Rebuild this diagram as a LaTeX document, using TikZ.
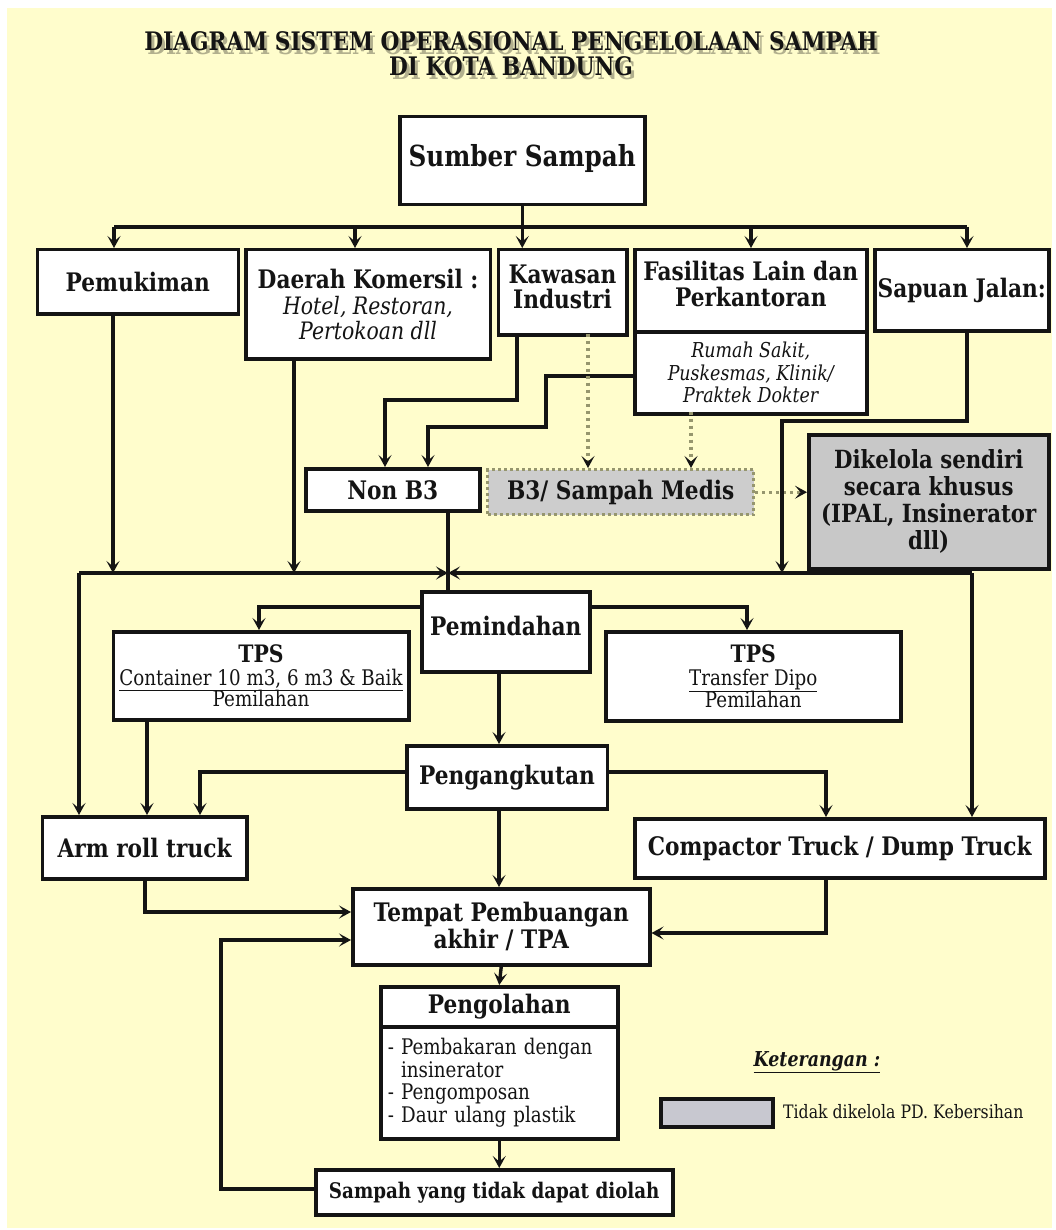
\documentclass[tikz,border=0pt]{standalone}
\usepackage{fontspec}
\setmainfont{DejaVu Serif}[FakeStretch=0.85]
\usetikzlibrary{arrows.meta}
\definecolor{bgy}{RGB}{255,253,204}
\definecolor{gfill}{RGB}{200,200,200}
\definecolor{gfillb}{RGB}{205,205,205}
\definecolor{gleg}{RGB}{200,200,208}
\definecolor{dotc}{RGB}{150,150,110}
\definecolor{ink}{RGB}{20,20,20}
\begin{document}
\begin{tikzpicture}[x=1pt,y=-1pt,
  box/.style={draw=ink, line width=3.5pt, fill=white, inner sep=0pt, align=center, text=ink, anchor=north west},
  bf/.style={font=\bfseries\fontsize{25.5}{26}\selectfont},
  ln/.style={draw=ink, line width=3.4pt},
  arr/.style={draw=ink, line width=3.4pt, -{Stealth[length=12pt,width=13pt,inset=5.5pt]}},
  dotarr/.style={draw=dotc, line width=3.4pt, dash pattern=on 3pt off 4pt, -{Stealth[length=12pt,width=13pt,inset=5.5pt,color=ink]}},
  ttl/.style={font=\bfseries\fontsize{25.5}{25}\selectfont, inner sep=0pt, align=center}]
\useasboundingbox (0,0) rectangle (1055,1230);
\fill[white] (0,0) rectangle (1055,1230);
\fill[bgy] (7,8) rectangle (1052,1228);

% title with shadow
\node[ttl, text=black, opacity=0.3] (sh) at (514,58) {DIAGRAM SISTEM OPERASIONAL PENGELOLAAN SAMPAH\\ DI KOTA BANDUNG};
\node[ttl, text=ink] (title) at (511,54) {DIAGRAM SISTEM OPERASIONAL PENGELOLAAN SAMPAH\\ DI KOTA BANDUNG};

% boxes
\node[box, font=\bfseries\fontsize{29}{30}\selectfont, minimum width=245pt, minimum height=88pt] (sum) at (398,115) {\raisebox{10pt}{Sumber Sampah}};
\node[box, bf, minimum width=201pt, minimum height=64pt] (pem) at (35.5,248) {Pemukiman};
\node[box, font=\fontsize{24}{25}\selectfont, minimum width=244.5pt, minimum height=109pt] (dae) at (244,248)
  {{\bfseries\fontsize{25.5}{26}\selectfont Daerah Komersil :}\\[1pt]
   {\itshape\fontsize{24}{25}\selectfont Hotel, Restoran,}\\
   {\itshape\fontsize{24}{25}\selectfont Pertokoan dll}};
\node[box, font=\bfseries\fontsize{25.5}{25}\selectfont, text depth=12pt, minimum width=128.5pt, minimum height=85pt] (kaw) at (496.5,248) {Kawasan\\Industri};
\node[box, font=\bfseries\fontsize{25.5}{26}\selectfont, text depth=14pt, minimum width=232pt, minimum height=82pt] (fas1) at (633,248) {Fasilitas Lain dan\\Perkantoran};
\node[box, font=\itshape\fontsize{20.5}{22.5}\selectfont, minimum width=232pt, minimum height=82pt] (fas2) at (633,330) {Rumah Sakit,\\ Puskesmas, Klinik/\\ Praktek Dokter};
\node[box, bf, minimum width=174pt, minimum height=81pt] (sap) at (873,248) {\raisebox{2pt}{Sapuan Jalan:}};
\node[box, bf, minimum width=174pt, minimum height=42pt] (non) at (304,467) {Non B3};
\node[box, bf, fill=gfillb, draw=dotc, line width=3.4pt, dash pattern=on 3pt off 3pt, minimum width=266pt, minimum height=45pt] (b3) at (486,468) {B3/ Sampah Medis};
\node[box, fill=gfill, font=\bfseries\fontsize{25}{27}\selectfont, minimum width=240pt, minimum height=134pt] (dik) at (807,433) {Dikelola sendiri\\ secara khusus\\ (IPAL, Insinerator\\ dll)};
\node[box, bf, minimum width=168pt, minimum height=80pt] (pmd) at (420,590) {\raisebox{12pt}{Pemindahan}};
\node[box, font=\fontsize{21.5}{22}\selectfont, minimum width=295.4pt, minimum height=88pt] (tpsl) at (111.6,630)
  {{\bfseries\fontsize{24}{24}\selectfont TPS}\\[1pt] {\fontsize{21.5}{22}\selectfont\underline{Container 10 m3, 6 m3 \& Baik}}\\[-1pt] {\fontsize{21.5}{22}\selectfont Pemilahan}};
\node[box, font=\fontsize{21.5}{22}\selectfont, minimum width=295pt, minimum height=89pt] (tpsr) at (604,630)
  {{\bfseries\fontsize{24}{24}\selectfont TPS}\\[1pt] {\fontsize{21.5}{22}\selectfont\underline{Transfer Dipo}}\\[-1pt] {\fontsize{21.5}{22}\selectfont Pemilahan}};
\node[box, bf, minimum width=200.5pt, minimum height=63pt] (pgk) at (405,744) {\raisebox{3pt}{Pengangkutan}};
\node[box, bf, minimum width=204.4pt, minimum height=62pt] (arm) at (40.6,815) {Arm roll truck};
\node[box, bf, minimum width=410pt, minimum height=59pt] (com) at (633,817) {Compactor Truck / Dump Truck};
\node[box, font=\bfseries\fontsize{25.5}{27}\selectfont, minimum width=297pt, minimum height=76pt] (tpa) at (351,887) {Tempat Pembuangan\\ akhir / TPA};
\node[box, bf, minimum width=237pt, minimum height=40pt] (pg1) at (379,985) {Pengolahan};
\node[box, font=\fontsize{21.5}{22.5}\selectfont, minimum width=237pt, minimum height=112pt, text width=223pt, inner xsep=7pt, align=left] (pg2) at (379,1025)
  {- Pembakaran dengan\\ \phantom{- }insinerator\\ - Pengomposan\\ - Daur ulang plastik};
\node[box, font=\bfseries\fontsize{21.5}{22}\selectfont, minimum width=357pt, minimum height=45pt] (sam) at (314,1168) {Sampah yang tidak dapat diolah};

% legend
\node[font=\bfseries\itshape\fontsize{20.5}{22}\selectfont, text=ink] (ket) at (817,1062) {\underline{Keterangan :}};
\node[box, fill=gleg, minimum width=112pt, minimum height=28pt] (leg) at (659,1097) {};
\node[anchor=west, font=\fontsize{18.5}{20}\selectfont, text=ink, inner sep=0pt] (legt) at (783,1112) {Tidak dikelola PD. Kebersihan};

% coordinates
\coordinate (t1) at (114,227);
\coordinate (t2) at (355,227);
\coordinate (t4) at (751,227);
\coordinate (t5) at (967,227);
\coordinate (b1) at (113,573);
\coordinate (b2) at (294,573);
\coordinate (bL) at (79,573);
\coordinate (bR) at (972,573);
\coordinate (bJ) at (448,573);
\coordinate (k1) at (517,400);
\coordinate (k2) at (385,400);
\coordinate (f1) at (546,376);
\coordinate (f2) at (546,427);
\coordinate (f3) at (428,427);
\coordinate (d1) at (588,400);
\coordinate (d2) at (691,440);
\coordinate (s1) at (967,421);
\coordinate (s2) at (782,421);
\coordinate (s3) at (782,573);
\coordinate (m1) at (259,607);
\coordinate (m2) at (747,607);
\coordinate (v1) at (499,700);
\coordinate (v2) at (147,760);
\coordinate (g1) at (200,772);
\coordinate (g2) at (826,772);
\coordinate (r1) at (145,912);
\coordinate (r2) at (826,933);
\coordinate (l1) at (221,1189);
\coordinate (l2) at (221,940);

% connectors
\draw[ln] (sum.south) -- (sum.south |- t1);
\draw[ln] (t1) -- (t5);
\draw[arr] (t1) -- (t1 |- pem.north);
\draw[arr] (t2) -- (t2 |- dae.north);
\draw[arr] (sum.south |- t1) -- (sum.south |- kaw.north);
\draw[arr] (t4) -- (t4 |- fas1.north);
\draw[arr] (t5) -- (t5 |- sap.north);

\draw[arr] (b1 |- pem.south) -- (b1);
\draw[arr] (b2 |- dae.south) -- (b2);
\draw[arr] (k1 |- kaw.south) -- (k1) -- (k2) -- (k2 |- non.north);
\draw[arr] (f1 -| fas2.west) -- (f1) -- (f2) -- (f3) -- (f3 |- non.north);
\draw[dotarr] ([yshift=3pt]d1 |- kaw.south) -- (d1 |- b3.north);
\draw[dotarr] ([yshift=4pt]d2 |- fas2.south) -- (d2 |- b3.north);
\draw[dotarr] (b3.east) -- (b3.east -| dik.west);
\draw[arr] (s1 |- sap.south) -- (s1) -- (s2) -- (s3);

\draw[ln] (bJ |- non.south) -- (bJ |- pmd.north);
\draw[arr] (bL) -- (bJ);
\draw[arr] (bR) -- (bJ);
\draw[arr] (bL) -- (bL |- arm.north);
\draw[arr] (bR) -- (bR |- com.north);

\draw[arr] (m1 -| pmd.west) -- (m1) -- (m1 |- tpsl.north);
\draw[arr] (m2 -| pmd.east) -- (m2) -- (m2 |- tpsr.north);
\draw[arr] (v1 |- pmd.south) -- (v1 |- pgk.north);
\draw[arr] (v2 |- tpsl.south) -- (v2 |- arm.north);
\draw[arr] (g1 -| pgk.west) -- (g1) -- (g1 |- arm.north);
\draw[arr] (g2 -| pgk.east) -- (g2) -- (g2 |- com.north);
\draw[arr] (v1 |- pgk.south) -- (v1 |- tpa.north);
\draw[arr] (r1 |- arm.south) -- (r1) -- (r1 -| tpa.west);
\draw[arr] (r2 |- com.south) -- (r2) -- (r2 -| tpa.east);
\draw[arr] (tpa.south) -- (pg1.north);
\draw[arr] (pg2.south) -- (pg2.south |- sam.north);
\draw[arr] (l1 -| sam.west) -- (l1) -- (l2) -- (l2 -| tpa.west);
\end{tikzpicture}
\end{document}
